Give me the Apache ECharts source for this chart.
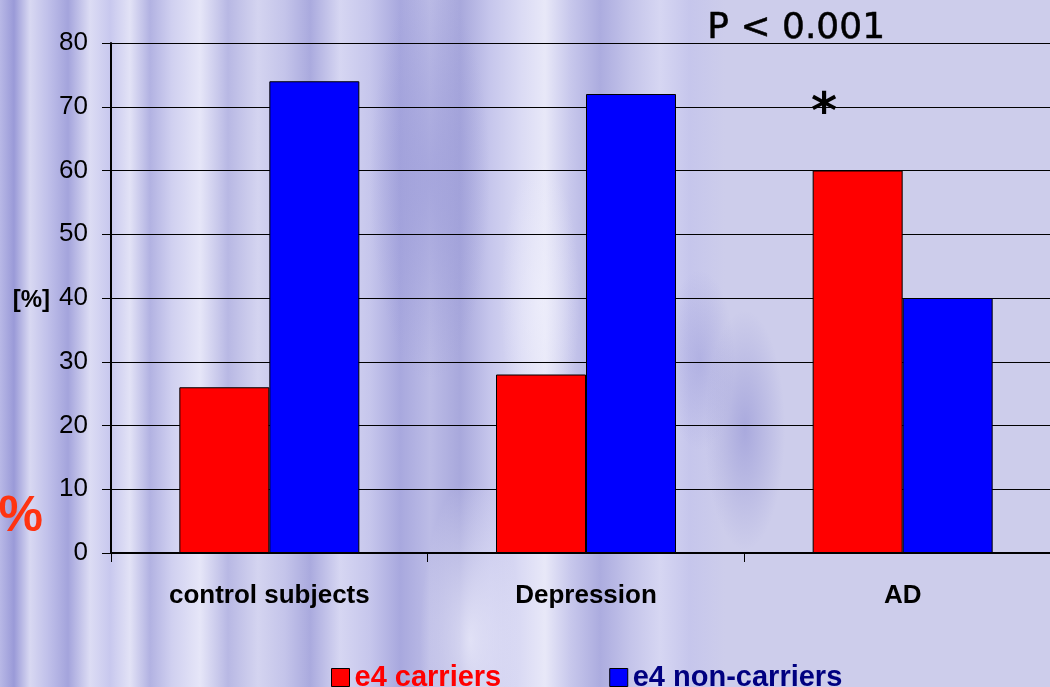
<!DOCTYPE html>
<html>
<head>
<meta charset="utf-8">
<script src="https://cdn.jsdelivr.net/npm/echarts@6/dist/echarts.min.js"></script>
<style>
  html, body { margin: 0; padding: 0; }
  #chart {
    width: 1050px;
    height: 687px;
    /* lavender backdrop with soft vertical streaks */
    background:
      radial-gradient(ellipse 40px 120px at 745px 430px, rgba(140,140,210,0.55), rgba(140,140,210,0) 100%),
      radial-gradient(ellipse 35px 90px at 700px 360px, rgba(150,150,215,0.45), rgba(150,150,215,0) 100%),
      radial-gradient(ellipse 60px 200px at 430px 180px, rgba(140,140,210,0.45), rgba(140,140,210,0) 100%),
      radial-gradient(ellipse 50px 160px at 470px 640px, rgba(245,245,255,0.7), rgba(245,245,255,0) 100%),
      radial-gradient(ellipse 40px 140px at 540px 300px, rgba(240,240,252,0.6), rgba(240,240,252,0) 100%),
      linear-gradient(to right,
        #b8b8e6 0px, #9a9ad8 14px, #d8d8f2 30px, #c0c0ea 48px, #a4a4dc 68px,
        #dcdcf4 90px, #c8c8ee 110px, #e2e2f6 130px, #b2b2e2 150px, #d0d0f0 172px,
        #e6e6f8 200px, #b8b8e4 228px, #d4d4f0 258px, #c4c4ea 285px, #aaaade 310px,
        #d6d6f2 340px, #c6c6ec 370px, #a8a8de 400px, #bcbce6 430px, #a8a8dc 460px,
        #c6c6ec 490px, #dadaf4 520px, #e8e8f8 545px, #c8c8ec 570px, #acacdf 600px,
        #c4c4ea 630px, #d6d6f2 660px, #c6c6ec 690px, #cdcdeb 725px, #cdcdeb 1050px);
  }
</style>
</head>
<body>
<div id="chart"></div>
<script>
// APOE e4 status by diagnostic group (percent)
const categories = ['control subjects', 'Depression', 'AD'];
const carriers = [26, 28, 60];
const nonCarriers = [74, 72, 40];
const yTicks = { min: 0, max: 80, interval: 10 };

const chart = echarts.init(document.getElementById('chart'));

const baseFont = 'Liberation Sans, Arial, sans-serif';

chart.setOption({
  backgroundColor: 'transparent',
  animation: false,
  // plot area runs a little past the right edge of the canvas
  grid: { left: 111, width: 950, top: 43, height: 510, outerBoundsMode: 'none', containLabel: false },
  legend: {
    left: 326,
    top: 658,
    itemWidth: 18,
    itemHeight: 18,
    itemGap: 108,
    icon: 'rect',
    textStyle: { fontFamily: baseFont, fontWeight: 'bold', fontSize: 29 },
    data: [
      { name: 'e4 carriers', textStyle: { color: '#ff0000' }, itemStyle: { borderColor: '#000', borderWidth: 1 } },
      { name: 'e4 non-carriers', textStyle: { color: '#000080' }, itemStyle: { borderColor: '#000', borderWidth: 1 } }
    ]
  },
  xAxis: {
    type: 'category',
    data: categories,
    axisLine: { lineStyle: { color: '#000', width: 2 } },
    axisTick: { show: true, length: 9, lineStyle: { color: '#000', width: 1 } },
    axisLabel: {
      color: '#000', fontFamily: baseFont, fontWeight: 'bold', fontSize: 26, margin: 30
    }
  },
  yAxis: {
    type: 'value',
    min: yTicks.min,
    max: yTicks.max,
    interval: yTicks.interval,
    axisLine: { show: true, lineStyle: { color: '#000', width: 2 } },
    axisTick: { show: true, length: 9, lineStyle: { color: '#000', width: 1 } },
    axisLabel: { color: '#000', fontFamily: baseFont, fontSize: 26, margin: 23 },
    splitLine: { show: true, lineStyle: { color: '#000', width: 1 } }
  },
  series: [
    {
      name: 'e4 carriers',
      type: 'bar',
      data: carriers,
      barWidth: 90,
      barGap: '0%',
      itemStyle: { color: '#ff0000', borderColor: '#000', borderWidth: 1 }
    },
    {
      name: 'e4 non-carriers',
      type: 'bar',
      data: nonCarriers,
      barWidth: 90,
      barGap: '0%',
      itemStyle: { color: '#0000ff', borderColor: '#000', borderWidth: 1 }
    }
  ],
  graphic: [
    {
      type: 'text', left: 707, top: 10,
      style: { text: 'P < 0.001', fill: '#000', font: '36px "DejaVu Sans", sans-serif', stroke: '#000', lineWidth: 0.5 }
    },
    {
      type: 'text', x: 824, y: 115,
      style: { text: '*', fill: '#000', font: 'bold 50px "DejaVu Sans", sans-serif', align: 'center', verticalAlign: 'middle' }
    },
    {
      type: 'text', x: 50, y: 300,
      style: { text: '[%]', fill: '#000', font: 'bold 24px "Liberation Sans", Arial, sans-serif', align: 'right', verticalAlign: 'middle' }
    },
    {
      type: 'text', x: 43, y: 517,
      style: { text: '%', fill: '#ff3311', font: 'bold 50px "Liberation Sans", Arial, sans-serif', align: 'right', verticalAlign: 'middle' }
    }
  ]
});
</script>
</body>
</html>
